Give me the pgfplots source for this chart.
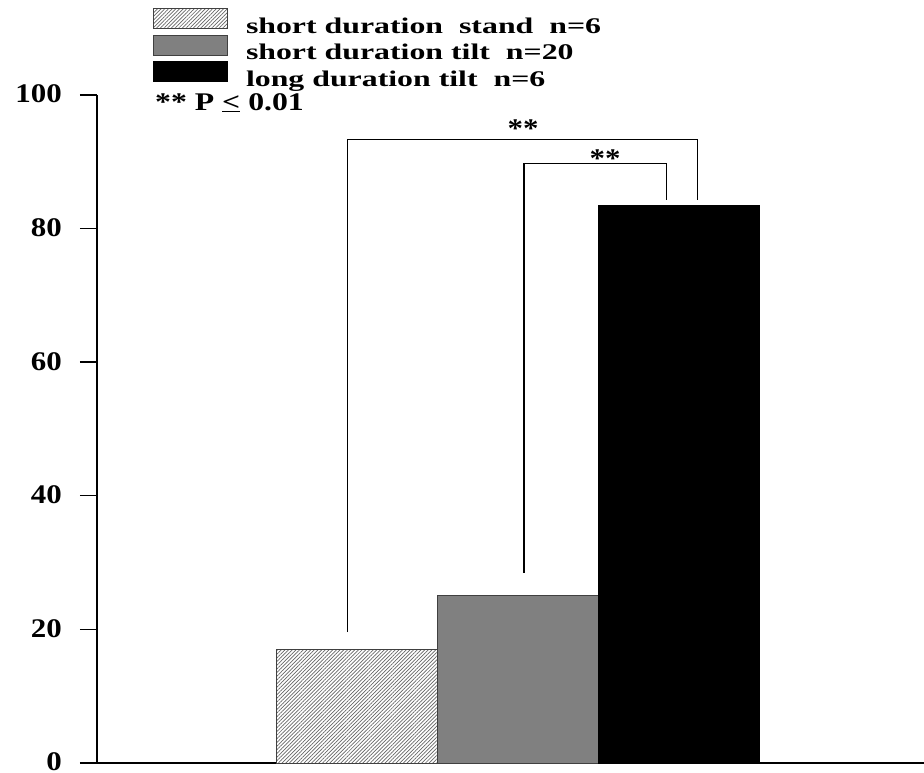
\documentclass[border=0pt]{standalone}
\usepackage{fontspec}
\setmainfont{Liberation Serif}[FakeStretch=1.15]
\newfontfamily\legfont{Liberation Serif}[FakeStretch=1.42]
\newfontfamily\pfont{Liberation Serif}[FakeStretch=1.25]
\usepackage{pgfplots}
\pgfplotsset{compat=1.18}
\usetikzlibrary{patterns,patterns.meta}
\newcommand\lent[1]{\hspace*{18.3bp}\smash{\raisebox{-5bp}{#1}}}

\begin{document}
\begin{tikzpicture}
\begin{axis}[
  at={(0,0)}, anchor=south west,
  scale only axis, width=827bp, height=668bp,
  xmin=0, xmax=8.27, ymin=0, ymax=100,
  axis lines*=left, axis line style={-, line width=1.4bp, black},
  xtick=\empty,
  ytick={0,20,40,60,80,100},
  tick align=outside, major tick length=17bp,
  tick style={line width=1.4bp, black},
  /pgf/number format/assume math mode=true,
  yticklabel style={font=\bfseries\fontsize{27}{30}\selectfont, inner sep=0pt, xshift=-18bp, yshift=1bp},
  clip=false,
  myleg/.style={legend image code/.code={\draw[##1] (0bp,0bp) rectangle (74bp,20bp);}},
  legend style={at={(axis description cs:0,1)}, anchor=north west, xshift=55.7bp, yshift=86.7bp,
    draw=none, fill=none, inner sep=0pt, outer sep=0pt, row sep=5.3bp,
    font=\legfont\bfseries\fontsize{22.5}{26}\selectfont,
    nodes={inner sep=0pt, outer sep=0pt}},
  legend cell align=left,
]
\addplot[ybar, bar width=1.61, bar shift=0, fill=white, draw=black!75, line width=1bp,
  postaction={pattern={Lines[angle=45, distance=2.6bp, line width=0.7bp]}, pattern color=black!60}, myleg]
  coordinates {(2.597,17)};
\addlegendentry{\lent{short duration\ \ stand\ \ n=6}}
\addplot[ybar, bar width=1.61, bar shift=0, fill=black!50, draw=black!75, line width=1bp, myleg]
  coordinates {(4.205,25)};
\addlegendentry{\lent{short duration tilt\ \ n=20}}
\addplot[ybar, bar width=1.61, bar shift=0, fill=black, draw=black, line width=1bp, myleg]
  coordinates {(5.815,83.5)};
\addlegendentry{\lent{long duration tilt\ \ n=6}}

\addplot[black, line width=1.2bp, mark=none, forget plot]
  coordinates {(2.503,19.6) (2.503,93.3) (6.007,93.3) (6.007,84.3)};
\addplot[black, line width=1.2bp, mark=none, forget plot]
  coordinates {(4.27,28.5) (4.27,89.8) (5.697,89.8) (5.697,84.3)};

\node[font=\bfseries\fontsize{27}{30}\selectfont, anchor=base, inner sep=0pt] at (axis cs:4.26,93.7) {**};
\node[font=\bfseries\fontsize{27}{30}\selectfont, anchor=base, inner sep=0pt] at (axis cs:5.08,89.2) {**};
\node[font=\pfont\bfseries\fontsize{25.5}{28}\selectfont, anchor=base west, inner sep=0pt] at (axis cs:0.58,97.75) {** P \underline{<} 0.01};
\end{axis}
\pgfresetboundingbox
\path[use as bounding box] (-97bp,-10bp) rectangle (827bp,763bp);
\end{tikzpicture}
\end{document}
